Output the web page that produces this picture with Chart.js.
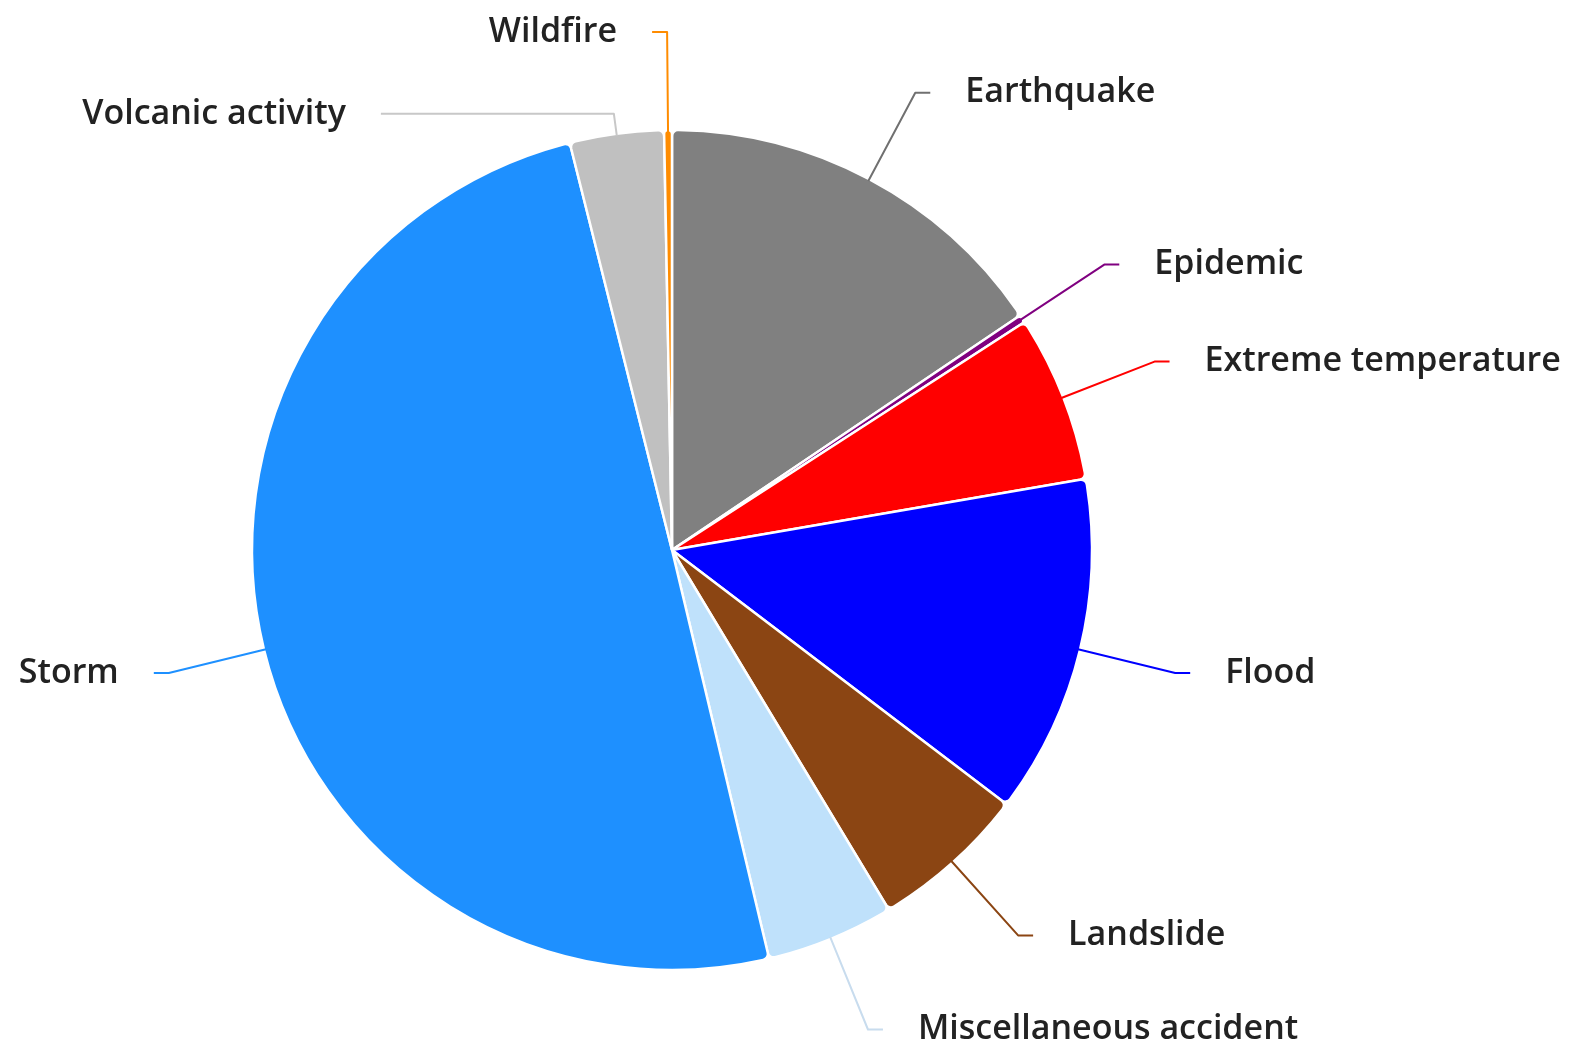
<!DOCTYPE html>
<html>
<head>
<meta charset="utf-8">
<script src="https://cdn.jsdelivr.net/npm/chart.js@4.4.1/dist/chart.umd.min.js"></script>
<style>
html,body{margin:0;padding:0;background:#fff;}
#wrap{width:1571px;height:1047px;}
</style>
</head>
<body>
<div id="wrap"><canvas id="c" width="1571" height="1047"></canvas></div>
<script>
const categories = ["Earthquake","Epidemic","Extreme temperature","Flood","Landslide","Miscellaneous accident","Storm","Volcanic activity","Wildfire"];
const shares = [15.5, 0.3, 6.4, 13.0, 6.0, 4.9, 49.6, 3.6, 0.3];
const sliceColors = ["#808080","#800080","#ff0000","#0000ff","#8b4513","#bfe1fb","#1e90ff","#c0c0c0","#ff8c00"];
const lineColors  = ["#707070","#800080","#ff0000","#0000ff","#8b4513","#c8dcee","#1e90ff","#c8c8c8","#ff8c00"];

const leaderPlugin = {
  id: 'leaders',
  afterDatasetsDraw(chart, args, opts) {
    const ctx = chart.ctx;
    const meta = chart.getDatasetMeta(0);
    ctx.save();
    ctx.font = opts.font;
    ctx.textBaseline = 'middle';
    meta.data.forEach((arc, i) => {
      const p = arc.getProps(['x','y','startAngle','endAngle','outerRadius'], true);
      const mid = (p.startAngle + p.endAngle) / 2;
      const ext = (opts.elbow[i] !== undefined) ? opts.elbow[i] : opts.defaultElbow;
      const seg = (opts.segment[i] !== undefined) ? opts.segment[i] : opts.defaultSegment;
      const c = Math.cos(mid), s = Math.sin(mid);
      const x0 = p.x + c * (p.outerRadius - 2), y0 = p.y + s * (p.outerRadius - 2);
      const x1 = p.x + c * (p.outerRadius + ext), y1 = p.y + s * (p.outerRadius + ext);
      const dir = c >= 0 ? 1 : -1;
      const x2 = x1 + dir * seg;
      ctx.strokeStyle = lineColors[i];
      ctx.lineWidth = 2;
      ctx.lineJoin = 'round';
      ctx.beginPath();
      ctx.moveTo(x0, y0);
      ctx.lineTo(x1, y1);
      ctx.lineTo(x2, y1);
      ctx.stroke();
      ctx.fillStyle = '#222';
      ctx.textAlign = dir > 0 ? 'left' : 'right';
      ctx.fillText(chart.data.labels[i], x2 + dir * opts.gap, y1);
    });
    ctx.restore();
  }
};

new Chart(document.getElementById('c'), {
  type: 'pie',
  data: {
    labels: categories,
    datasets: [{
      data: shares,
      backgroundColor: sliceColors,
      borderColor: '#ffffff',
      borderWidth: 2.5,
      borderRadius: 6,
      hoverOffset: 0
    }]
  },
  options: {
    responsive: false,
    animation: false,
    radius: 420,
    layout: { padding: { top: 130, bottom: 77, left: 252, right: 479 } },
    plugins: {
      legend: { display: false },
      tooltip: { enabled: false },
      leaders: {
        font: '600 34px "Open Sans"',
        defaultElbow: 98,
        elbow: {7: 20},
        defaultSegment: 15,
        segment: {7: 233},
        gap: 35
      }
    }
  },
  plugins: [leaderPlugin]
});
</script>
</body>
</html>
